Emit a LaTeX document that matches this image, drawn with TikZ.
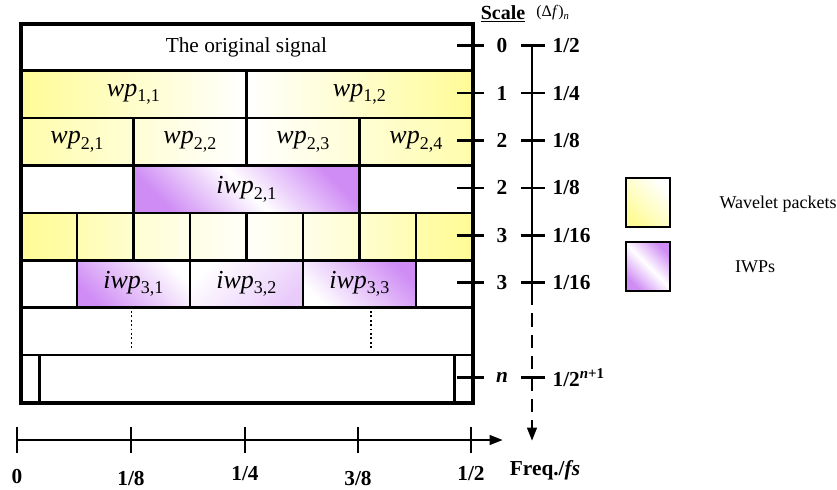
\documentclass[tikz,border=0pt]{standalone}
\usepackage{fontspec}
\setmainfont{Liberation Serif}
\usetikzlibrary{arrows.meta, positioning}
\definecolor{clrWP}{HTML}{FFFC96}
\definecolor{clrIWP}{HTML}{CF8CF5}
\newcommand{\pkt}[2]{\textit{#1}\raisebox{-0.45ex}{\fontsize{13.5}{13.5}\selectfont #2}}

\begin{document}
\begin{tikzpicture}[
  x=0.75pt, y=-0.75pt,
  cell/.style = {
    draw, line width=2pt, inner sep=0pt, anchor=north west,
    minimum height=35.55pt,
    font=\fontsize{19.5}{20}\selectfont
  },
  cols/.style = {minimum width=#1*42.375pt},
  wp/.style 2 args = {left color=clrWP!#1!white, right color=clrWP!#2!white},
  iwp/.style = {top color=clrIWP, bottom color=clrIWP, middle color=white, shading angle=-45},
  tickline/.style = {line width=2pt},
  axisline/.style = {line width=2.2pt},
  scalelbl/.style = {font=\fontsize{16}{16}\selectfont\bfseries, inner sep=1pt},
  legbox/.style = {draw, line width=1.5pt, minimum width=33pt, minimum height=36.75pt, inner sep=0pt}
]
\useasboundingbox (0,0) rectangle (837,489);

% ── rows of packets ──────────────────────────────────────────────────────────
\node[cell, cols=8, font=\fontsize{16}{18}\selectfont] (orig) at (19,22) {The original signal};

\node[cell, cols=4, wp={100}{0}] (wp11) at (19,69.4)  {\pkt{wp}{1,1}};
\node[cell, cols=4, wp={0}{100}] (wp12) at (245,69.4) {\pkt{wp}{1,2}};

\node[cell, cols=2, wp={80}{40}] (wp21) at (19,116.8)  {\pkt{wp}{2,1}};
\node[cell, cols=2, wp={40}{0}]  (wp22) at (132,116.8) {\pkt{wp}{2,2}};
\node[cell, cols=2, wp={0}{40}]  (wp23) at (245,116.8) {\pkt{wp}{2,3}};
\node[cell, cols=2, wp={40}{80}] (wp24) at (358,116.8) {\pkt{wp}{2,4}};

\node[cell, cols=2]      (e21l)  at (19,164.2)  {};
\node[cell, cols=4, iwp] (iwp21) at (132,164.2) {\pkt{iwp}{2,1}};
\node[cell, cols=2]      (e21r)  at (358,164.2) {};

\foreach \i/\a/\b in {0/100/80, 1/75/45, 2/45/20, 3/25/5, 4/5/25, 5/20/45, 6/45/75, 7/80/100}
  \node[cell, cols=1, wp={\a}{\b}] (wp3-\i) at ({19+56.5*\i},211.6) {};

\node[cell, cols=1] (e31l) at (19,259) {};
\node[cell, cols=2, top color=white, bottom color=clrIWP, shading angle=-45] (iwp31) at (75.5,259)  {\pkt{iwp}{3,1}};
\node[cell, cols=2, top color=white, bottom color=clrIWP!45, shading angle=45] (iwp32) at (188.5,259) {\pkt{iwp}{3,2}};
\node[cell, cols=2, top color=clrIWP, bottom color=white, shading angle=-45] (iwp33) at (301.5,259) {\pkt{iwp}{3,3}};
\node[cell, cols=1] (e31r) at (414.5,259) {};

\node[cell, cols=8] (dots) at (19,306.4) {};
\draw[dotted, line width=1.3pt] (131.5,311) -- (131.5,349);
\draw[dotted, line width=1.3pt] (371,311) -- (371,349);

\node[cell, minimum width=14.25pt]  (nl)  at (19,353.8)  {};
\node[cell, minimum width=311.25pt] (nm)  at (38,353.8)  {};
\node[cell, minimum width=13.5pt]   (nr)  at (453,353.8) {};

\node[draw, line width=3pt, anchor=north west, inner sep=0pt,
      minimum width=339pt, minimum height=284.4pt] (frame) at (19,22) {};

% ── scale column ─────────────────────────────────────────────────────────────
\node[font=\fontsize{15}{15}\selectfont\bfseries] (scaleHd) at (503,14) {\underline{Scale}};
\node[font=\fontsize{12}{12}\selectfont] (dfHd) at (553,13) {(Δ\textit{f})\textsubscript{\textit{n}}};

\foreach \nm/\y/\s/\d in {s0/45.7/0/{1/2}, s1/93.1/1/{1/4}, s2/140.5/2/{1/8}, s3/187.9/2/{1/8},
                          s4/235.3/3/{1/16}, s5/282.7/3/{1/16},
                          s6/377.5/{\textit{n}}/{1/2\textsuperscript{\textit{n}+1}}} {
  \draw[tickline] (457,\y) -- (484,\y);
  \node[scalelbl] (\nm-lbl) at (502,\y) {\s};
  \coordinate (\nm) at (532,\y);
  \draw[tickline] (521,\y) -- (545,\y);
  \node[scalelbl, anchor=west] (\nm-df) at (551,\y) {\d};
}
\coordinate (sDash) at (532,292);
\coordinate (sEnd)  at (532,441);
\draw[axisline] (s0) -- (sDash);
\draw[axisline, dash pattern=on 10pt off 6pt, -{Triangle[length=10pt, width=7pt]}] (sDash) -- (sEnd);

% ── frequency axis ───────────────────────────────────────────────────────────
\coordinate (fStart) at (17,440);
\coordinate (fEnd)   at (503,440);
\draw[axisline, -{Triangle[length=10pt, width=7pt]}] (fStart) -- (fEnd);
\foreach \nm/\x/\t/\ly in {f0/17/0/477, f1/131/{1/8}/479, f2/245/{1/4}/474, f3/358/{3/8}/479, f4/471/{1/2}/474} {
  \draw[tickline] (\x,427) -- (\x,453);
  \node[scalelbl] (\nm) at (\x,\ly) {\t};
}
\node[scalelbl] (freq) at (545,470) {Freq./\textit{fs}};

% ── legend ───────────────────────────────────────────────────────────────────
\node[legbox, top color=white, bottom color=clrWP, shading angle=-45] (legWP) at (648,202.5) {};
\node[legbox, iwp] (legIWP) at (648,266) {};
\node[font=\fontsize{13.5}{14}\selectfont] (legWPtxt)  at (778,204) {Wavelet packets};
\node[font=\fontsize{13.5}{14}\selectfont] (legIWPtxt) at (755,267) {IWPs};

\end{tikzpicture}
\end{document}
